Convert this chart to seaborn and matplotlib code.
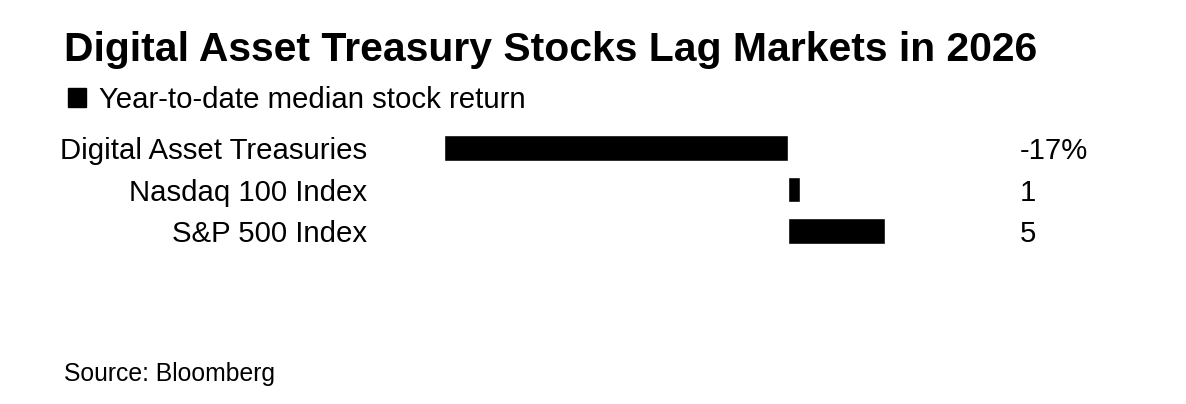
import matplotlib
matplotlib.use("Agg")
import matplotlib.pyplot as plt
import matplotlib.transforms as mtransforms
from matplotlib.patches import Patch
import pandas as pd
import seaborn as sns

categories = ["Digital Asset Treasuries", "Nasdaq 100 Index", "S&P 500 Index"]
returns = [-17.0, 0.6, 4.8]
value_labels = ["-17%", "1", "5"]

title = "Digital Asset Treasury Stocks Lag Markets in 2026"
legend_label = "Year-to-date median stock return"
source = "Source: Bloomberg"

W, H = 1186, 404
FS = 21.2

sns.set_theme(style="white")
plt.rcParams["font.family"] = ["Liberation Sans", "DejaVu Sans"]
plt.rcParams["text.color"] = "black"

df = pd.DataFrame({"name": categories, "ret": returns})

fig = plt.figure(figsize=(W / 100, H / 100), dpi=100)
# axes placed in pixel terms: zero line at ~788px, -17 at ~444px
left, right = 444.3, 888.7
top, bottom = 127.1, 252.0
ax = fig.add_axes([left / W, 1 - bottom / H, (right - left) / W, (bottom - top) / H])

sns.barplot(data=df, x="ret", y="name", orient="h", color="black",
            saturation=1, width=0.62, ax=ax)
ax.set_xlim(-17, 5)
ax.set_ylim(2.5, -0.5)
ax.set_xlabel("")
ax.set_ylabel("")
ax.set_xticks([])
sns.despine(ax=ax, left=True, bottom=True)
ax.tick_params(axis="y", length=0, pad=55.4, labelsize=FS, labelcolor="black")

trans = mtransforms.blended_transform_factory(fig.transFigure, ax.transData)
for i, lab in enumerate(value_labels):
    ax.text(1020 / W, i, lab, transform=trans, ha="left", va="center_baseline",
            fontsize=FS, color="black")

fig.text(64 / W, 1 - 46 / H, title, ha="left", va="center_baseline",
         fontsize=29.4, fontweight="bold", color="black")

leg = fig.legend(handles=[Patch(facecolor="black", edgecolor="black", label=legend_label)],
                 loc="center left", bbox_to_anchor=(68 / W, 1 - 100 / H),
                 frameon=False, fontsize=FS, handlelength=0.6, handleheight=0.6,
                 handletextpad=0.44, borderpad=0, borderaxespad=0)
for t in leg.get_texts():
    t.set_color("black")

fig.text(64 / W, 1 - 372 / H, source, ha="left", va="center_baseline",
         fontsize=17.8, color="black")

fig.savefig("out.png", dpi=100)
